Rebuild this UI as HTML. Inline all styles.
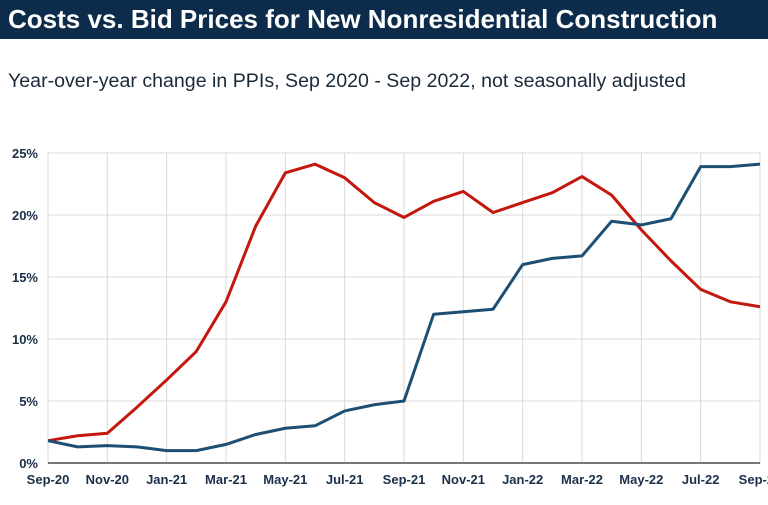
<!DOCTYPE html>
<html><head><meta charset="utf-8"><style>
body{margin:0;width:768px;height:505px;background:#fff;overflow:hidden;font-family:"Liberation Sans",sans-serif}
#hdr{position:absolute;left:0;top:0;width:768px;height:39px;background:#0d2c4b;color:#fff;font-weight:bold;font-size:26px;line-height:39px;padding-left:8px;box-sizing:border-box;white-space:nowrap}
#sub{position:absolute;left:8px;top:70px;font-size:19.6px;color:#1a2a3a;white-space:nowrap}
svg{position:absolute;left:0;top:0}
</style></head><body>
<div id="hdr">Costs vs. Bid Prices for New Nonresidential Construction</div>
<div id="sub">Year-over-year change in PPIs, Sep 2020 - Sep 2022, not seasonally adjusted</div>
<svg id="chart" width="768" height="505"></svg>
<script>
const months=["Sep-20","Oct-20","Nov-20","Dec-20","Jan-21","Feb-21","Mar-21","Apr-21","May-21","Jun-21","Jul-21","Aug-21","Sep-21","Oct-21","Nov-21","Dec-21","Jan-22","Feb-22","Mar-22","Apr-22","May-22","Jun-22","Jul-22","Aug-22","Sep-22"];
const costs=[1.8,2.2,2.4,4.5,6.7,9.0,13.0,19.1,23.4,24.1,23.0,21.0,19.8,21.1,21.9,20.2,21.0,21.8,23.1,21.6,18.8,16.3,14.0,13.0,12.6];
const bids=[1.8,1.3,1.4,1.3,1.0,1.0,1.5,2.3,2.8,3.0,4.2,4.7,5.0,12.0,12.2,12.4,16.0,16.5,16.7,19.5,19.2,19.7,23.9,23.9,24.1];
const yTicks=[0,5,10,15,20,25];
const NS="http://www.w3.org/2000/svg";
const svg=document.getElementById('chart');
const L=48,R=760,T=153,B=463;
const x=i=>L+(R-L)*i/(months.length-1);
const y=v=>B-(B-T)*v/25;
function mk(t,a){const e=document.createElementNS(NS,t);for(const k in a)e.setAttribute(k,a[k]);svg.appendChild(e);return e;}
yTicks.forEach(v=>{
 if(v>0){const g=mk('line',{x1:L,x2:R,y1:y(v),y2:y(v),stroke:'#d9d9d9','stroke-width':1});
 
 }
 const t=mk('text',{x:38,y:y(v)+5,'text-anchor':'end','font-size':13,'font-weight':'bold',fill:'#1a2f4a','font-family':'Liberation Sans, sans-serif'});
 t.textContent=v+'%';
 
 
});
months.forEach((m,i)=>{
 if(i%2)return;
 const g=mk('line',{x1:x(i),x2:x(i),y1:T,y2:B,stroke:'#d9d9d9','stroke-width':1});
 
 
 const t=mk('text',{x:x(i),y:484,'text-anchor':'middle','font-size':13,'font-weight':'bold',fill:'#1a2f4a','font-family':'Liberation Sans, sans-serif'});
 t.textContent=m;
 
 
});
const ax=mk('line',{x1:L,x2:R,y1:B,y2:B,stroke:'#777','stroke-width':2});


function line(d,c,n){
 const p=mk('polyline',{points:d.map((v,i)=>x(i)+','+y(v)).join(' '),fill:'none',stroke:c,'stroke-width':3,'stroke-linejoin':'round'});
 
 
}
line(costs,'#c4170e','costs-line');
line(bids,'#1d4e73','bid-prices-line');
</script>
</body></html>
